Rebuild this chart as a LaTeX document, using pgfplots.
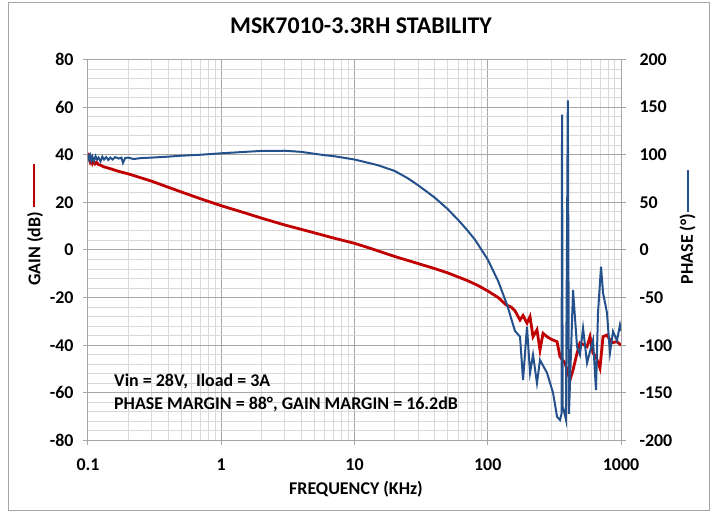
\documentclass[border=0pt]{standalone}
\usepackage{pgfplots}
\pgfplotsset{compat=1.18}
\usepackage{fontspec}
\setmainfont{Carlito}
\definecolor{gainred}{RGB}{192,0,0}
\definecolor{phaseblue}{RGB}{36,80,140}
\definecolor{majgrid}{RGB}{166,166,166}
\definecolor{mingrid}{RGB}{217,217,217}
\newcommand{\lbl}{\fontsize{18}{20}\selectfont\bfseries}

\begin{document}
\begin{tikzpicture}[x=1bp,y=1bp]
\useasboundingbox (-88,-71.5) rectangle (627,440.5);
\draw[majgrid, line width=1bp] (-79,-70.5) rectangle (621,437.5);

% gain axis (left)
\begin{axis}[
  scale only axis, width=533bp, height=381bp,
  xmode=log, xmin=0.1, xmax=1000,
  ymin=-80, ymax=80,
  axis y line*=left, axis x line*=bottom,
  axis line style={majgrid, line width=1bp, -},
  xtick={0.1,1,10,100,1000}, xticklabels={0.1,1,10,100,1000},
  ytick={-80,-60,...,80},
  yticklabels={-80,-60,-40,-20,0,20,40,60,80},
  minor y tick num=4,
  grid=both,
  major grid style={majgrid, line width=1bp},
  minor grid style={mingrid, line width=1bp},
  tick style={majgrid, line width=1bp},
  major tick length=5bp, minor tick length=0pt,
  tick align=outside,
  ticklabel style={font=\lbl},
  xticklabel style={yshift=-10bp},
  yticklabel style={xshift=-6bp},
]
\addplot[gainred, line width=2.8bp] coordinates {
(0.100,40.8) (0.102,38.5) (0.104,37.0) (0.106,38.0) (0.108,36.4) (0.110,37.3)
(0.113,36.2) (0.116,36.8) (0.120,35.8) (0.125,35.6) (0.130,35.0) (0.140,34.5)
(0.150,34.0) (0.170,33.0) (0.200,32.0) (0.300,28.9) (0.500,24.4) (0.700,21.5)
(1,18.6) (1.5,15.6) (2,13.4) (3,10.5) (5,7.2) (7,5.0) (10,2.8) (13,0.8)
(16,-0.9) (20,-2.7) (30,-5.7) (40,-7.8) (50,-9.6) (70,-12.8) (85,-15.0)
(100,-17.2) (120,-20.0) (137,-23.0) (150,-24.0) (160,-25.5) (174.6,-29.4)
(184,-27.5) (197,-30.7) (207.6,-28.0) (218.6,-36.4) (234,-33.5) (246.6,-42.0)
(260,-35.0) (280,-36.5) (300,-37.5) (331,-38.5) (348.5,-44.8) (380,-47.5)
(414,-54.6) (436.5,-50.4) (467.7,-43.3) (492,-39.0) (556,-40.6) (585,-36.4)
(616.6,-43.3) (650,-45.0) (695,-49.6) (733,-36.4) (785,-35.7) (850,-39.0)
(933,-38.5) (1000,-40.0)
};
\end{axis}

% phase axis (right)
\begin{axis}[
  scale only axis, width=533bp, height=381bp,
  xmode=log, xmin=0.1, xmax=1000,
  ymin=-200, ymax=200,
  axis y line*=right, axis x line=none,
  axis line style={majgrid, line width=1bp, -},
  ytick={-200,-150,...,200},
  yticklabels={-200,-150,-100,-50,0,50,100,150,200},
  tick style={majgrid, line width=1bp},
  major tick length=5bp, minor tick length=0pt,
  tick align=outside,
  ticklabel style={font=\lbl},
  yticklabel style={xshift=10bp},
]
\addplot[phaseblue, line width=2bp] coordinates {
(0.100,100.5) (0.102,95) (0.104,99) (0.106,94) (0.108,98) (0.111,93.5)
(0.114,98.5) (0.117,95) (0.120,97) (0.124,93) (0.128,98) (0.132,95)
(0.137,97.5) (0.142,94.5) (0.147,97) (0.153,95) (0.160,97.5) (0.170,96)
(0.178,97) (0.183,91.5) (0.190,96.5) (0.200,97) (0.220,95.5) (0.250,96.5)
(0.300,97) (0.400,98) (0.500,99) (0.700,100) (1,101.5) (1.5,103) (2,104)
(3,104.2) (4,103) (5,101) (6,99.5) (7,98.5) (10,95) (15,89) (20,83)
(25,75.5) (30,68) (40,55) (50,43) (60,31.5) (70,21) (80,11) (100,-10)
(120,-33) (140,-58) (160,-85) (174.6,-91) (184,-136.5) (197,-80.6) (207.6,-129)
(218.6,-110) (234,-139.7) (246.6,-115.5) (278.4,-129) (309,-150) (331,-175)
(348.5,-178.5) (358,-172) (361,142) (365,-165) (376,-171) (386,-178)
(399,157) (407,-172) (436.5,-42) (467.7,-101.6) (492,-110) (519,-82)
(556,-118.6) (616.6,-94.5) (649,-147) (672,-66) (708,-17.6) (733,-45)
(785,-66) (826,-108) (871,-85.6) (933,-95) (982,-78.8) (1000,-85)
};
\end{axis}

\node[font=\fontsize{24}{28}\selectfont\bfseries, anchor=base] at (273,406.5) {MSK7010-3.3RH STABILITY};
\node[font=\lbl, anchor=base] at (268,-54.5) {FREQUENCY (KHz)};
\node[font=\lbl, anchor=base west, inner sep=0pt] at (26,53.8) {Vin = 28V,\ \ Iload = 3A};
\node[font=\lbl, anchor=base west, inner sep=0pt] at (26,31.2) {PHASE MARGIN = 88°, GAIN MARGIN = 16.2dB};
\node[font=\lbl, rotate=90] at (-53,191.5) {GAIN (dB)};
\draw[gainred, line width=2.5bp] (-54,233.8) -- (-54,276.5);
\node[font=\lbl, rotate=90] at (599.5,191.5) {PHASE (°)};
\draw[phaseblue, line width=2.5bp] (600,228.8) -- (600,270.5);
\end{tikzpicture}
\end{document}
